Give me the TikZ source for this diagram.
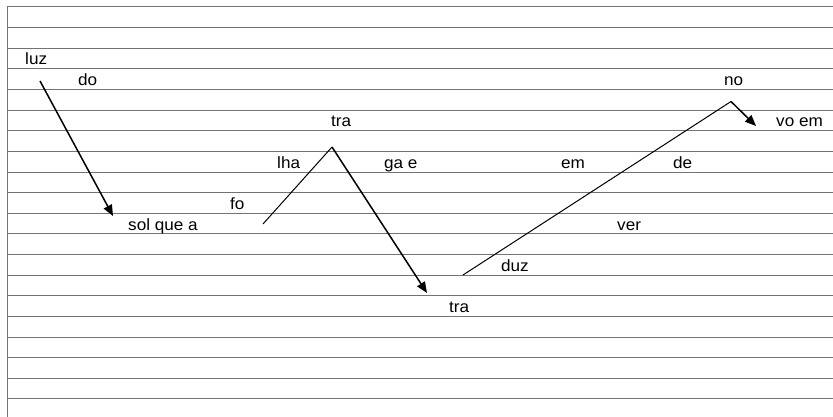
\documentclass[tikz,border=0pt]{standalone}
\usepackage{fontspec}
\setmainfont{Liberation Sans}
\usetikzlibrary{arrows.meta}
\begin{document}
\begin{tikzpicture}[x=1pt,y=-1pt,
  staff/.style={draw=black!55,line width=1pt},
  word/.style={anchor=base west,inner sep=0pt,xscale=1.05,font=\fontsize{16.3}{16}\selectfont},
  pathline/.style={draw=black,line width=1pt},
  patharrow/.style={draw=black,line width=1.5pt,-{Triangle[length=11pt,width=9pt]}}]
\useasboundingbox (0,0) rectangle (833,417);
\fill[white] (0,0) rectangle (833,417);
% staff lines
\foreach \k in {0,...,19}{
  \draw[staff] (7,{7+20.63*\k}) -- (833,{7+20.63*\k});
}
\draw[staff] (7,7) -- (7,417);
% words
\node[word] (luz) at (25,65) {luz};
\node[word] (do) at (78,85.5) {do};
\node[word] (sol) at (128,230) {sol que a};
\node[word] (fo) at (230,209) {fo};
\node[word] (lha) at (277,168) {lha};
\node[word] (tra1) at (331,127) {tra};
\node[word] (gae) at (384,168) {ga e};
\node[word] (tra2) at (449,312) {tra};
\node[word] (duz) at (501,271) {duz};
\node[word] (em) at (561,168) {em};
\node[word] (ver) at (617,230) {ver};
\node[word] (de) at (673,168) {de};
\node[word] (no) at (724,85.5) {no};
\node[word] (voem) at (776,127) {vo em};
% path points
\coordinate (p1) at (40,81);
\coordinate (p2) at (113,216);
\coordinate (p3) at (263,224);
\coordinate (p4) at (332,147);
\coordinate (p5) at (427,293);
\coordinate (p6) at (463,275);
\coordinate (p7) at (731,101.5);
\coordinate (p8) at (756,126);
% connectors
\draw[patharrow] (p1) -- (p2);
\draw[pathline] (p3) -- (p4);
\draw[patharrow] (p4) -- (p5);
\draw[pathline] (p6) -- (p7);
\draw[patharrow] (p7) -- (p8);
\end{tikzpicture}
\end{document}
